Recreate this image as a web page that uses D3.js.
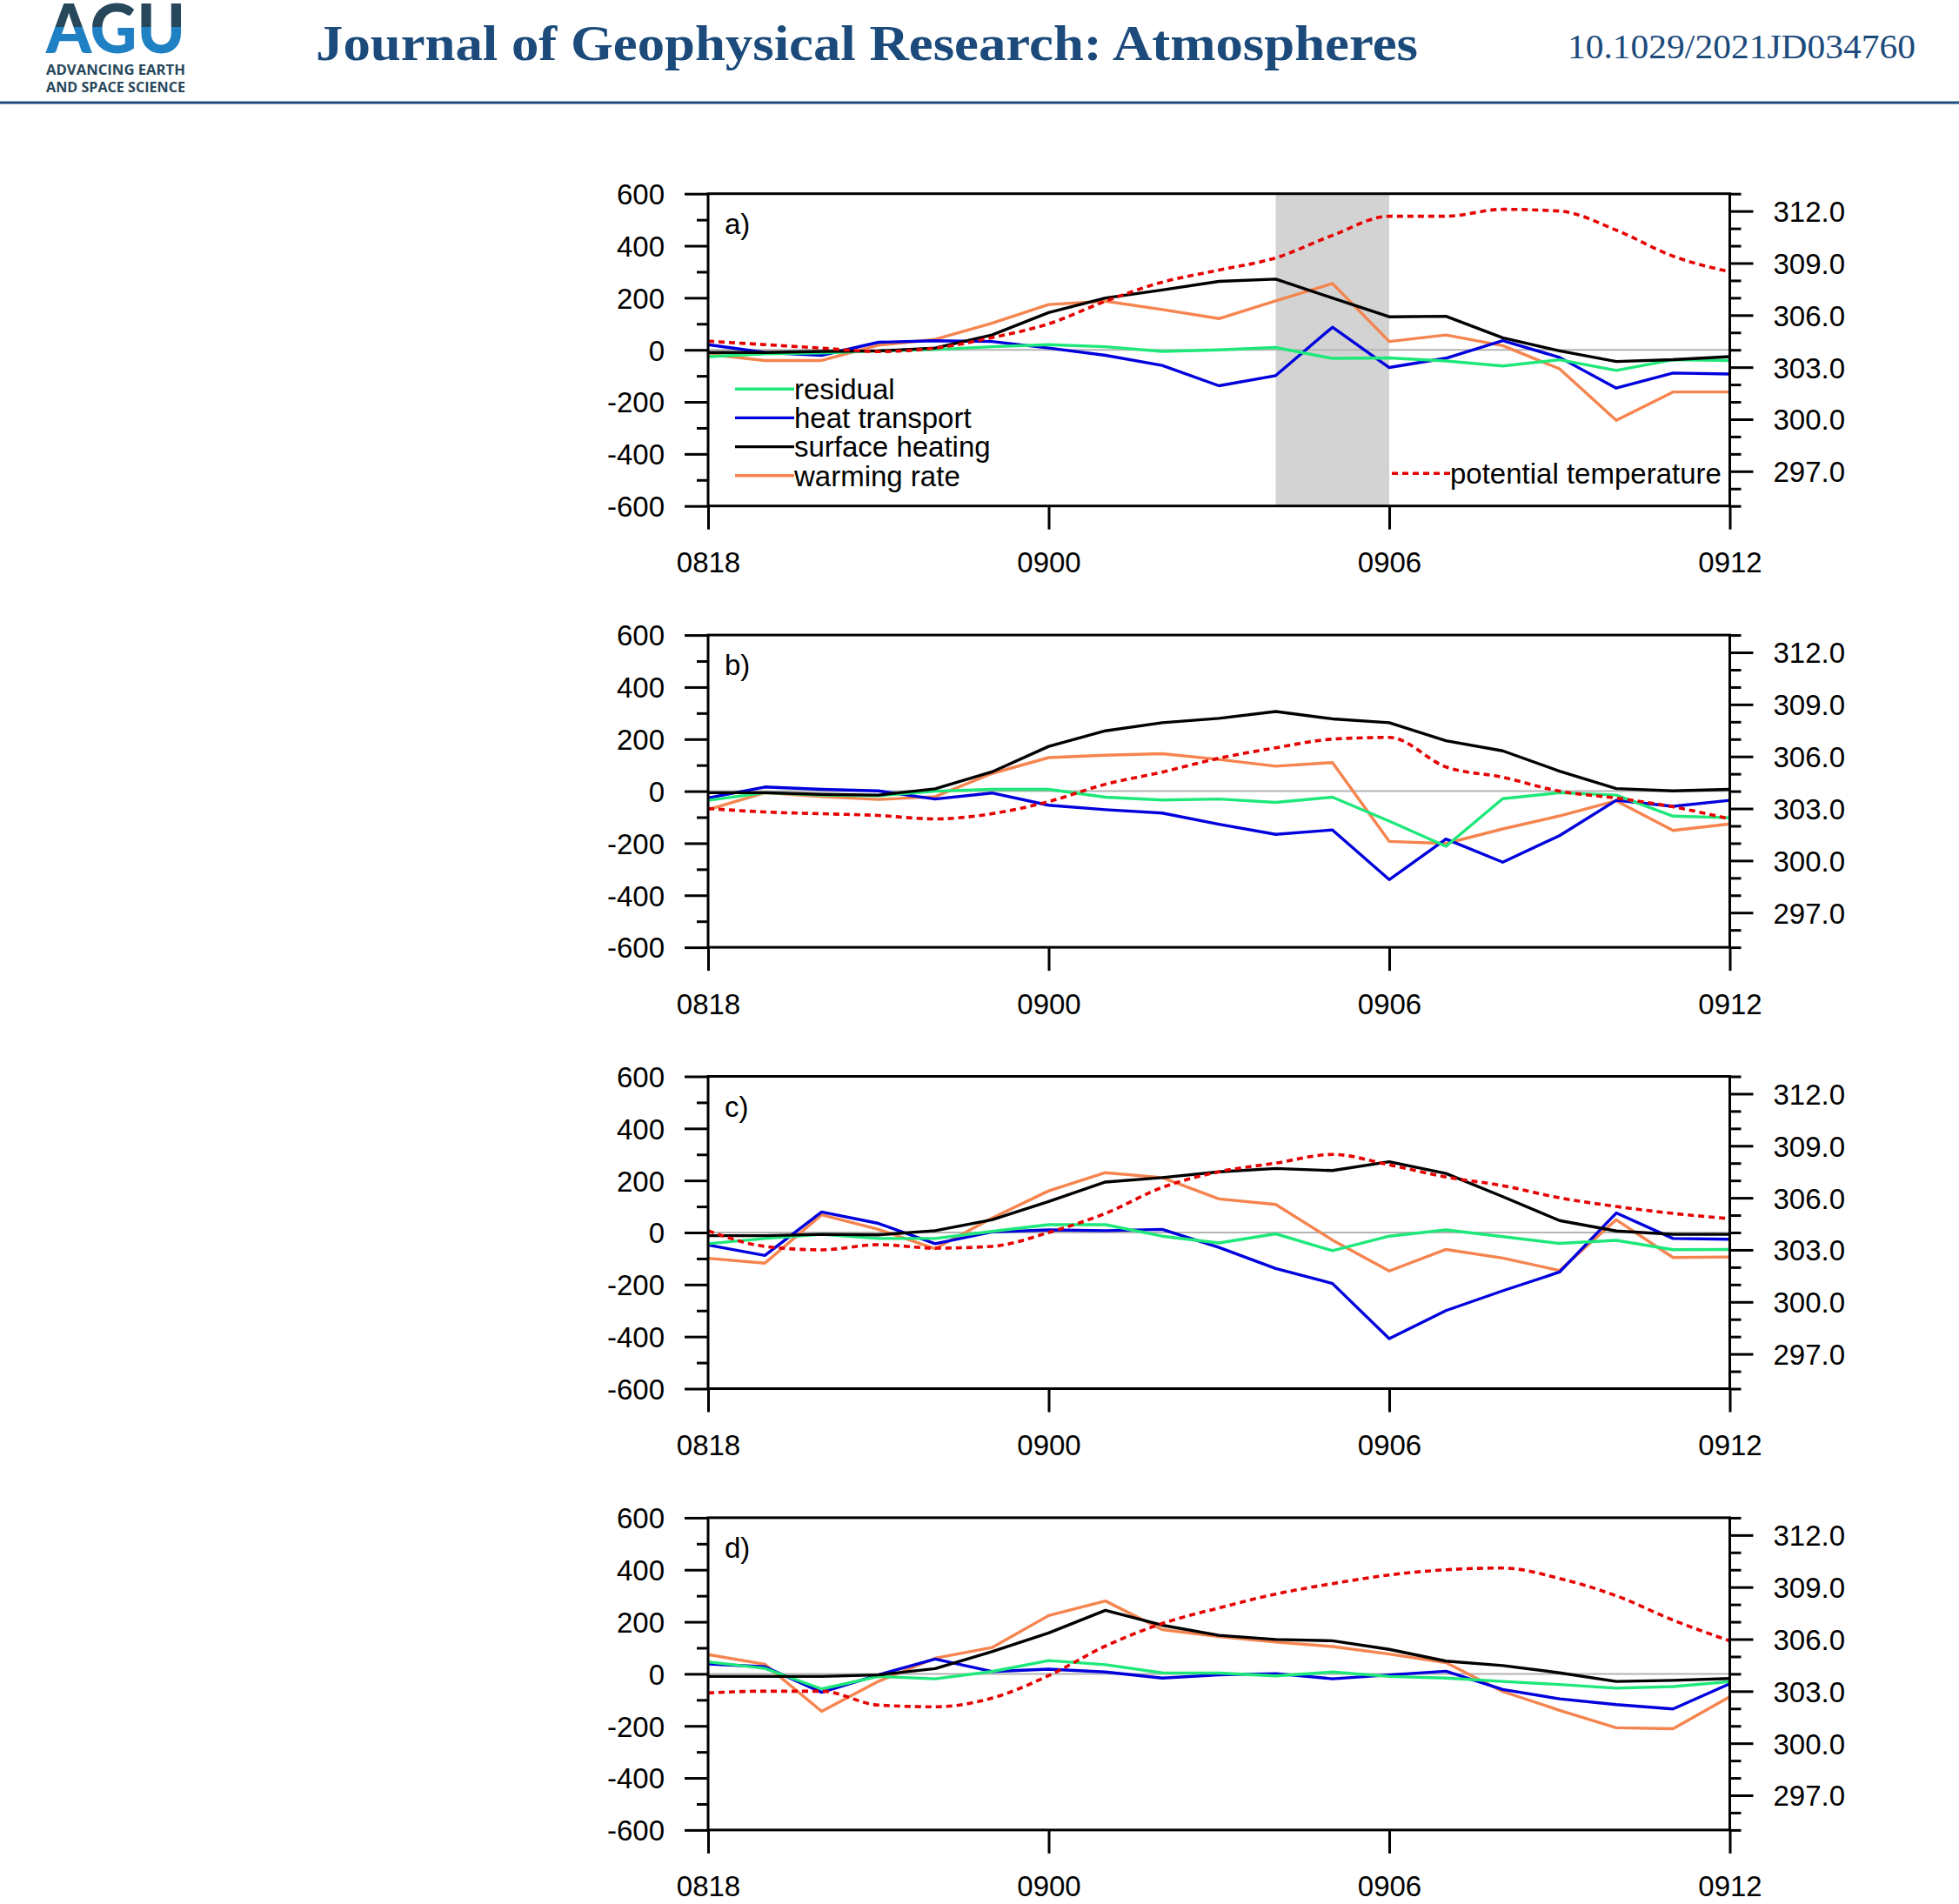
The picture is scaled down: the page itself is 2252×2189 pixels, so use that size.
<!DOCTYPE html>
<html><head><meta charset="utf-8">
<script src="https://cdn.jsdelivr.net/npm/d3@7/dist/d3.min.js"></script>
<style>body{margin:0;background:#fff}</style>
</head><body>
<svg id="c" width="2252" height="2189" xmlns="http://www.w3.org/2000/svg"></svg>
<script>
// ---------- data ----------
const times = ["0818","0819","0820","0821","0822","0823","0900","0901","0902","0903","0904","0905","0906","0907","0908","0909","0910","0911","0912"];
const timeTicks = ["0818","0900","0906","0912"];
const fluxTicks = [-600,-400,-200,0,200,400,600];
const fluxMinorTicks = [-500,-300,-100,100,300,500];
const thetaTicks = [297,300,303,306,309,312];
const thetaMinorTicks = [295,296,298,299,301,302,304,305,307,308,310,311,313];
const panelLabels = ["a)","b)","c)","d)"];
const seriesNames = ["residual","heat transport","surface heating","warming rate","potential temperature"];
const shadePeriodA = ["0904","0906"];

// panel a
const residualA = [-26,-15,-12,-4,1,12,20,12,-6,0,9,-33,-31,-43,-62,-38,-79,-38,-41];
const heatA     = [20,-10,-21,29,35,32,7,-21,-60,-138,-99,87,-68,-32,35,-29,-147,-89,-93];
const surfaceA  = [-10,-10,-6,-4,7,57,143,199,230,263,272,199,127,129,46,-4,-45,-38,-26];
const warmingA  = [-17,-41,-41,18,40,102,174,187,155,120,188,255,32,57,16,-73,-271,-162,-162];
const thetaA    = [304.5,304.3,304.1,303.9,304.1,304.7,305.5,306.8,307.9,308.6,309.3,310.6,311.7,311.7,312.1,312.0,310.9,309.4,308.5];
// panel b
const residualB = [-35,-6,-15,-17,0,7,7,-23,-34,-30,-43,-23,-115,-212,-29,-6,-15,-96,-102];
const heatB     = [-26,16,7,1,-30,-7,-54,-71,-84,-127,-166,-149,-340,-184,-273,-171,-35,-58,-35];
const surfaceB  = [-6,-6,-12,-15,9,74,172,232,263,280,306,278,263,194,155,77,10,1,7];
const warmingB  = [-71,-6,-21,-32,-21,68,129,138,144,122,96,110,-193,-201,-145,-95,-37,-151,-126];
const thetaB    = [303.0,302.8,302.7,302.6,302.4,302.7,303.4,304.4,305.1,305.9,306.5,307.0,307.1,305.4,304.8,304.0,303.6,303.1,302.4];
// panel c
const residualC = [-43,-23,-7,-23,-23,4,30,30,-14,-40,-5,-70,-14,10,-16,-42,-30,-66,-65];
const heatC     = [-48,-88,79,35,-43,2,10,7,12,-57,-138,-196,-408,-300,-224,-152,75,-23,-26];
const surfaceC  = [-12,-12,-7,-9,7,49,119,194,211,233,246,238,272,227,138,46,6,-7,-7];
const warmingC  = [-99,-118,68,12,-62,55,160,230,211,129,108,-29,-148,-65,-98,-146,49,-96,-94];
const thetaC    = [304.1,303.2,303.0,303.3,303.1,303.2,304.0,305.1,306.6,307.5,308.0,308.5,307.9,307.2,306.7,306.0,305.5,305.1,304.8];
// panel d
const residualD = [46,21,-58,-10,-19,9,51,35,4,3,-8,7,-10,-16,-29,-41,-55,-49,-30];
const heatD     = [38,27,-71,-4,57,9,18,7,-16,-4,1,-19,-4,10,-60,-96,-118,-135,-38];
const surfaceD  = [-10,-10,-10,-4,20,85,157,244,187,148,132,127,94,49,32,4,-29,-25,-18];
const warmingD  = [74,37,-144,-29,60,101,224,280,170,143,122,105,76,43,-68,-140,-207,-211,-88];
const thetaD    = [302.9,303.0,303.0,302.2,302.1,302.6,303.9,305.6,306.9,307.8,308.6,309.2,309.7,310.0,310.1,309.5,308.5,307.1,305.9];

const panels = [
  {label: panelLabels[0], residual: residualA, heat: heatA, surface: surfaceA, warming: warmingA, theta: thetaA, shade: shadePeriodA, legend: true},
  {label: panelLabels[1], residual: residualB, heat: heatB, surface: surfaceB, warming: warmingB, theta: thetaB},
  {label: panelLabels[2], residual: residualC, heat: heatC, surface: surfaceC, warming: warmingC, theta: thetaC},
  {label: panelLabels[3], residual: residualD, heat: heatD, surface: surfaceD, warming: warmingD, theta: thetaD}
];

// ---------- style ----------
const COL = {residual: "#1ee87a", heat: "#0000dd", surface: "#000000", warming: "#f5844f", theta: "#e60000"};
const FONT = "'Liberation Sans', Arial, Helvetica, sans-serif";
const FS = 33;
const NAVY = "#1b4a7b";
const LW = 3.4;

const svg = d3.select("#c");
svg.append("rect").attr("width", 2252).attr("height", 2189).attr("fill", "#fff");

// ---------- header ----------
const defs = svg.append("defs");
const grad = defs.append("linearGradient").attr("id", "agugrad")
  .attr("gradientUnits", "userSpaceOnUse").attr("x1", 0).attr("x2", 0).attr("y1", 0).attr("y2", 62);
grad.append("stop").attr("offset", 0.5).attr("stop-color", "#27475b");
grad.append("stop").attr("offset", 0.5).attr("stop-color", "#1f80c3");

const hdr = svg.append("g");
hdr.append("text").attr("x", 53).attr("y", 61).attr("font-family", "Lato, 'Open Sans', sans-serif")
  .attr("font-weight", 900).attr("font-size", 78)
  .attr("textLength", 160).attr("lengthAdjust", "spacingAndGlyphs")
  .attr("fill", "url(#agugrad)").text("AGU");
hdr.append("text").attr("x", 53).attr("y", 86).attr("font-family", "'Open Sans', sans-serif").attr("font-weight", 700)
  .attr("font-size", 16).attr("textLength", 160).attr("lengthAdjust", "spacingAndGlyphs").attr("fill", "#27475b").text("ADVANCING EARTH");
hdr.append("text").attr("x", 53).attr("y", 106).attr("font-family", "'Open Sans', sans-serif").attr("font-weight", 700)
  .attr("font-size", 16).attr("textLength", 160).attr("lengthAdjust", "spacingAndGlyphs").attr("fill", "#27475b").text("AND SPACE SCIENCE");
hdr.append("text").attr("x", 363).attr("y", 69).attr("font-family", "'Liberation Serif', 'DejaVu Serif', serif").attr("font-weight", 700)
  .attr("font-size", 56).attr("textLength", 1267).attr("lengthAdjust", "spacingAndGlyphs").attr("fill", NAVY)
  .text("Journal of Geophysical Research: Atmospheres");
hdr.append("text").attr("x", 1802).attr("y", 67).attr("font-family", "'Liberation Serif', 'DejaVu Serif', serif")
  .attr("font-size", 41).attr("textLength", 400).attr("lengthAdjust", "spacingAndGlyphs").attr("fill", NAVY)
  .text("10.1029/2021JD034760");
hdr.append("rect").attr("x", 0).attr("y", 116.5).attr("width", 2252).attr("height", 3).attr("fill", "#1d4d7e");

// ---------- panels ----------
const X0 = 814, X1 = 1988.5, PH = 359, TOP0 = 222.7, STEP = 507.4;
const x = d3.scalePoint().domain(times).range([X0, X1]);

function styleAxis(g) {
  g.select(".domain").remove();
  g.selectAll(".tick line").attr("stroke", "#000").attr("stroke-width", 3);
  g.selectAll(".tick text").attr("font-family", FONT).attr("font-size", FS).attr("fill", "#000");
  g.attr("font-family", null).attr("font-size", null);
}

panels.forEach((p, i) => {
  const top = TOP0 + STEP * i, bottom = top + PH;
  const yL = d3.scaleLinear().domain([-600, 600]).range([bottom, top]);
  const yR = d3.scaleLinear().domain([295, 313]).range([bottom, top]);
  const g = svg.append("g");

  if (p.shade) {
    g.append("rect").attr("x", x(p.shade[0])).attr("y", top)
      .attr("width", x(p.shade[1]) - x(p.shade[0])).attr("height", PH).attr("fill", "#d3d3d3");
  }
  // zero reference line
  g.append("line").attr("x1", X0).attr("x2", X1).attr("y1", yL(0)).attr("y2", yL(0))
    .attr("stroke", "#b4b4b4").attr("stroke-width", 2);

  const lineL = d3.line().x((d, j) => x(times[j])).y(d => yL(d));
  const lineR = d3.line().x((d, j) => x(times[j])).y(d => yR(d)).curve(d3.curveMonotoneX);
  [["warming", p.warming], ["heat", p.heat], ["residual", p.residual], ["surface", p.surface]].forEach(([k, arr]) => {
    g.append("path").datum(arr).attr("d", lineL).attr("fill", "none")
      .attr("stroke", COL[k]).attr("stroke-width", LW).attr("stroke-linejoin", "round");
  });
  g.append("path").datum(p.theta).attr("d", lineR).attr("fill", "none")
    .attr("stroke", COL.theta).attr("stroke-width", 3.6).attr("stroke-dasharray", "7,5");

  // frame
  g.append("rect").attr("x", X0).attr("y", top).attr("width", X1 - X0).attr("height", PH)
    .attr("fill", "none").attr("stroke", "#000").attr("stroke-width", 3);

  // left axis
  g.append("g").attr("transform", `translate(${X0},0)`)
    .call(d3.axisLeft(yL).tickValues(fluxMinorTicks).tickSize(13).tickFormat(""))
    .call(styleAxis);
  g.append("g").attr("transform", `translate(${X0},0)`)
    .call(d3.axisLeft(yL).tickValues(fluxTicks).tickSize(27).tickPadding(23).tickFormat(d => String(d)))
    .call(styleAxis).call(a => a.selectAll(".tick text").attr("dy", "0.36em"));
  // right axis
  g.append("g").attr("transform", `translate(${X1},0)`)
    .call(d3.axisRight(yR).tickValues(thetaMinorTicks).tickSize(13).tickFormat(""))
    .call(styleAxis);
  g.append("g").attr("transform", `translate(${X1},0)`)
    .call(d3.axisRight(yR).tickValues(thetaTicks).tickSize(27).tickPadding(23).tickFormat(d => d.toFixed(1)))
    .call(styleAxis).call(a => a.selectAll(".tick text").attr("dy", "0.36em"));
  // bottom axis
  g.append("g").attr("transform", `translate(0,${bottom})`)
    .call(d3.axisBottom(x).tickValues(timeTicks).tickSize(27).tickPadding(26))
    .call(styleAxis);

  // panel label
  g.append("text").attr("x", 833).attr("y", top + 46).attr("font-family", FONT).attr("font-size", FS).text(p.label);

  if (p.legend) {
    const items = [["residual", seriesNames[0]], ["heat", seriesNames[1]], ["surface", seriesNames[2]], ["warming", seriesNames[3]]];
    items.forEach(([k, name], j) => {
      const ly = top + 224.5 + 33.2 * j;
      g.append("line").attr("x1", 845).attr("x2", 913).attr("y1", ly).attr("y2", ly)
        .attr("stroke", COL[k]).attr("stroke-width", LW);
      g.append("text").attr("x", 913).attr("y", ly).attr("dy", "0.36em")
        .attr("font-family", FONT).attr("font-size", FS).text(name);
    });
    const ty = top + 321.5;
    g.append("line").attr("x1", 1600).attr("x2", 1667).attr("y1", ty).attr("y2", ty)
      .attr("stroke", COL.theta).attr("stroke-width", 3.6).attr("stroke-dasharray", "7,5");
    g.append("text").attr("x", 1667).attr("y", ty).attr("dy", "0.36em")
      .attr("font-family", FONT).attr("font-size", FS).text(seriesNames[4]);
  }
});
</script>
</body></html>
